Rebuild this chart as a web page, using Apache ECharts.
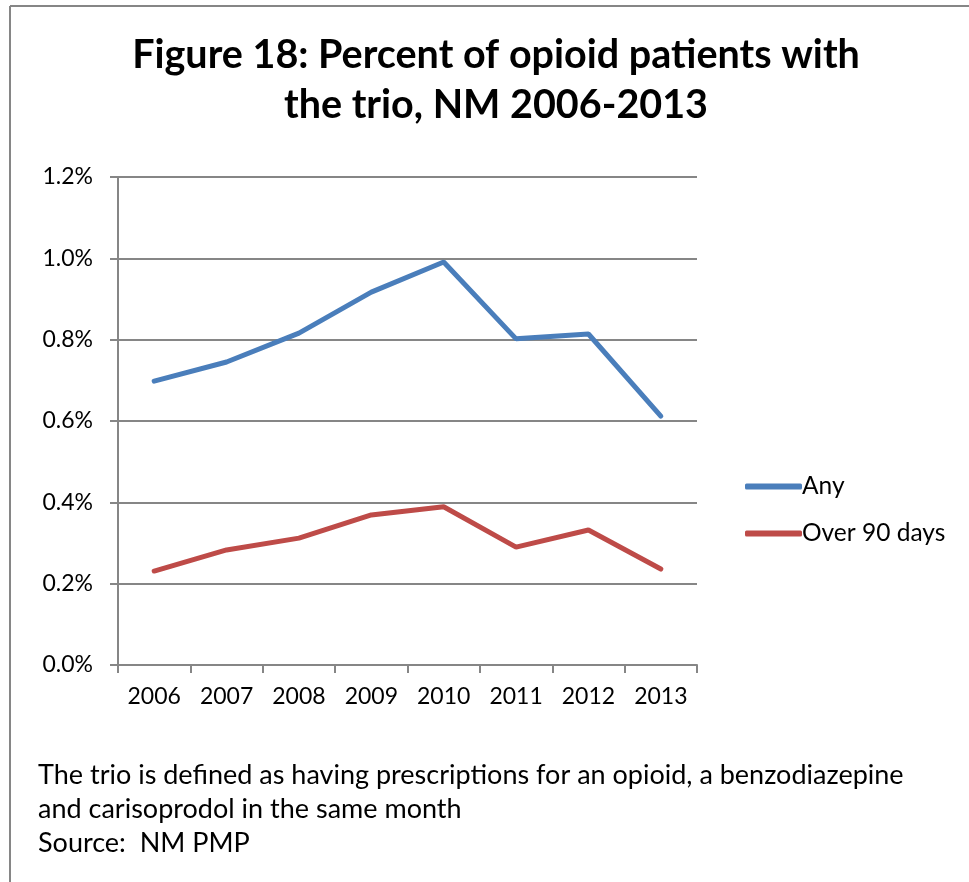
<!DOCTYPE html>
<html><head><meta charset="utf-8">
<script src="https://cdn.jsdelivr.net/npm/echarts@6/dist/echarts.min.js"></script>
<style>html,body{margin:0;padding:0;background:#fff}#c{width:969px;height:882px}</style>
</head><body><div id="c"></div>
<script>
const years = ['2006','2007','2008','2009','2010','2011','2012','2013'];
const anyPct = [0.698, 0.745, 0.816, 0.917, 0.991, 0.802, 0.814, 0.612];
const over90Pct = [0.231, 0.283, 0.312, 0.369, 0.389, 0.290, 0.332, 0.236];
const seriesNames = ['Any', 'Over 90 days'];
const titleLines = ['Figure 18: Percent of opioid patients with', 'the trio, NM 2006-2013'];
const noteLines = ['The trio is defined as having prescriptions for an opioid, a benzodiazepine', 'and carisoprodol in the same month', 'Source:  NM PMP'];

const chart = echarts.init(document.getElementById('c'));
const font = 'Lato, "Open Sans", sans-serif';
chart.setOption({
  animation: false,
  textStyle: { fontFamily: font },
  title: {
    text: titleLines.join('\n'),
    left: 491, textAlign: 'center', top: 25,
    textStyle: { fontSize: 39.5, fontWeight: 'bold', color: '#000', lineHeight: 50, fontFamily: font }
  },
  grid: { left: 118, right: 272, top: 177, bottom: 217 },
  legend: {
    orient: 'vertical', left: 740, top: 469, itemWidth: 57, itemHeight: 6, itemGap: 22,
    icon: 'roundRect',
    textStyle: { fontSize: 24.5, color: '#000', padding: [0, 0, 0, -5] },
    data: seriesNames
  },
  xAxis: {
    type: 'category', data: years, boundaryGap: true,
    axisLine: { lineStyle: { color: '#868686', width: 2 } },
    axisTick: { show: true, length: 8, lineStyle: { color: '#868686', width: 2 }, alignWithLabel: false },
    axisLabel: { fontSize: 23, color: '#000', margin: 20 }
  },
  yAxis: {
    type: 'value', min: 0, max: 1.2, interval: 0.2,
    axisLine: { show: true, lineStyle: { color: '#868686', width: 2 } },
    axisTick: { show: true, length: 8, lineStyle: { color: '#868686', width: 2 } },
    splitLine: { lineStyle: { color: '#868686', width: 2 } },
    axisLabel: { fontSize: 23, color: '#000', margin: 25, formatter: v => v.toFixed(1) + '%' }
  },
  series: [
    { name: seriesNames[0], type: 'line', data: anyPct, symbol: 'none', lineStyle: { width: 5, color: '#4A7EBB', cap: 'round' }, itemStyle: { color: '#4A7EBB' } },
    { name: seriesNames[1], type: 'line', data: over90Pct, symbol: 'none', lineStyle: { width: 5, color: '#BE4B48', cap: 'round' }, itemStyle: { color: '#BE4B48' } }
  ],
  graphic: [
    { type: 'line', shape: { x1: 10, y1: 6, x2: 969, y2: 6 }, style: { stroke: '#868686', lineWidth: 2 } },
    { type: 'line', shape: { x1: 10, y1: 6, x2: 10, y2: 882 }, style: { stroke: '#868686', lineWidth: 2 } },
    { type: 'text', left: 38, top: 758, style: { text: noteLines.join('\n'), fontSize: 27, lineHeight: 34, fill: '#000', fontFamily: font } }
  ]
});
</script></body></html>
